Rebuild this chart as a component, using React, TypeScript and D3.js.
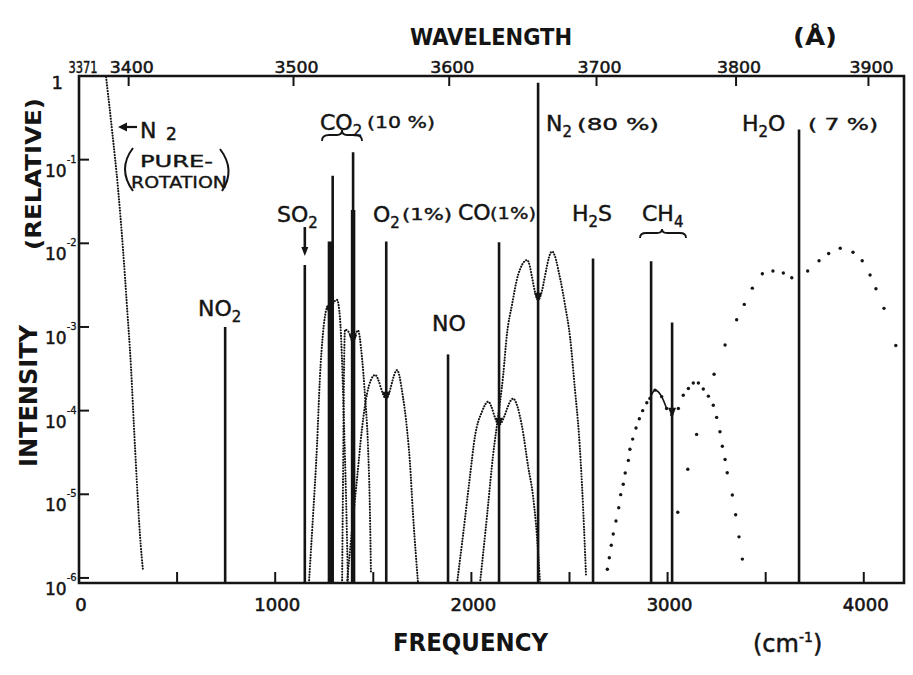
import React, { useEffect, useRef } from 'react';
import * as d3 from 'd3';

const width = 913;
const height = 675;

// Frequency shift axis (cm-1)
const freqTicks = [500, 1000, 1500, 2000, 2500, 3000, 3500, 4000];
const freqTickLabels = [0, 1000, 2000, 3000, 4000];
// Wavelength axis (Å), excitation by the 3371 Å nitrogen laser
const laserLine = 3371;
const wavelengthTicks = [3371, 3400, 3500, 3600, 3700, 3800, 3900];
// Intensity decades (powers of ten)
const intensityDecades = [0, -1, -2, -3, -4, -5, -6];

// Raman lines: NO2, SO2, CO2, CO2, O2, NO, CO, N2, H2S, CH4, CH4, H2O
const lineFreq = [745, 1151, 1293, 1397, 1566, 1881, 2141, 2340, 2620, 2916, 3023, 3670];
const lineIntensity = [1.0e-3, 5.5e-3, 6.4e-2, 0.123, 1.05e-2, 4.7e-4, 1.03e-2, 0.83, 6.6e-3, 6.1e-3, 1.13e-3, 0.23];

// CO2 hot-band lines (heavy)
const co2HotFreq = [1279, 1397];
const co2HotIntensity = [1.05e-2, 2.5e-2];

// arrow marks where a line sits in the dip of its band
const dipFreq = [1279, 1397, 1566, 2141, 2340, 3023];
const dipIntensity = [1.45e-3, 6.6e-4, 1.39e-4, 6.8e-5, 2.11e-3, 8.9e-5];

// rotational band envelopes (dotted)
const n2RotFreq = [138, 168, 199, 224, 245, 265, 280, 296, 311, 326];
const n2RotInt = [0.97, 0.23, 0.045, 0.0087, 0.0017, 3.3e-4, 6.5e-5, 1.26e-5, 3.2e-6, 1.24e-6];

const co2aFreq = [1172, 1193, 1213, 1228, 1244, 1259, 1269, 1279, 1295, 1315, 1330, 1340, 1351, 1361, 1371];
const co2aInt = [8.7e-7, 5.6e-6, 3.75e-5, 2.5e-4, 8.6e-4, 1.57e-3, 1.79e-3, 1.45e-3, 1.9e-3, 2.11e-3, 1.3e-3, 4.4e-4, 6.5e-5, 9.6e-6, 8.7e-7];

const co2bFreq = [1341, 1346, 1351, 1356, 1376, 1397, 1412, 1422, 1442, 1458, 1473, 1483, 1488];
const co2bInt = [8.7e-7, 1.7e-5, 3.3e-4, 9.3e-4, 8.6e-4, 6.6e-4, 8.5e-4, 9.1e-4, 4.4e-4, 1.47e-4, 3.75e-5, 6.0e-6, 1.18e-6];

const o2Freq = [1366, 1392, 1417, 1442, 1468, 1509, 1565, 1621, 1651, 1672, 1687, 1702, 1728];
const o2Int = [8.7e-7, 3.9e-6, 1.52e-5, 5.96e-5, 1.59e-4, 2.67e-4, 1.39e-4, 3.05e-4, 1.47e-4, 5.96e-5, 2.36e-5, 6.0e-6, 8.7e-7];

const coFreq = [1927, 1957, 1993, 2018, 2054, 2085, 2141, 2212, 2258, 2289, 2314, 2334, 2350];
const coInt = [8.7e-7, 3.2e-6, 1.66e-5, 4.9e-5, 9.7e-5, 1.28e-4, 6.8e-5, 1.39e-4, 6.5e-5, 2.17e-5, 9.6e-6, 3.2e-6, 8.7e-7];

const n2VibFreq = [2044, 2080, 2110, 2136, 2161, 2181, 2207, 2238, 2284, 2340, 2411, 2452, 2477, 2503, 2528, 2549, 2564, 2584];
const n2VibInt = [8.7e-7, 5.6e-6, 2.86e-5, 8.5e-5, 2.5e-4, 8.15e-4, 1.85e-3, 4.18e-3, 6.3e-3, 2.11e-3, 8.0e-3, 3.85e-3, 1.85e-3, 7.5e-4, 1.77e-4, 4.9e-5, 1.26e-5, 1.1e-6];

// sparse dots
const ch4Freq = [2693, 2703, 2713, 2723, 2737, 2751, 2761, 2774, 2784, 2800, 2808, 2822, 2839, 2856, 2873, 2894, 2910, 2936, 2970, 2995,
  3021, 3055, 3080, 3106, 3131, 3157, 3182, 3208, 3233, 3250, 3267, 3279, 3293, 3304, 3330, 3347, 3364, 3381];
const ch4Int = [1.27e-6, 1.74e-6, 2.46e-6, 3.35e-6, 4.8e-6, 6.9e-6, 9.9e-6, 1.32e-5, 1.8e-5, 2.54e-5, 3.45e-5, 4.57e-5, 6.2e-5, 8.0e-5, 1.0e-4,
  1.24e-4, 1.4e-4, 1.76e-4, 1.47e-4, 1.06e-4, 8.9e-5, 1.06e-4, 1.53e-4, 1.84e-4, 2.14e-4, 2.14e-4, 1.81e-4, 1.49e-4, 1.16e-4, 8.3e-5,
  5.6e-5, 3.75e-5, 2.61e-5, 1.81e-5, 9.8e-6, 5.7e-6, 3.1e-6, 1.68e-6];

const h2oFreq = [3052, 3103, 3148, 3237, 3293, 3352, 3391, 3432, 3483, 3537, 3590, 3633, 3714, 3772, 3821, 3880, 3945, 3992, 4032, 4062, 4103, 4163];
const h2oInt = [6.1e-6, 1.99e-5, 5.2e-5, 2.72e-4, 6.1e-4, 1.22e-3, 1.86e-3, 2.91e-3, 4.33e-3, 4.67e-3, 4.42e-3, 3.88e-3, 4.67e-3, 6.18e-3,
  7.55e-3, 8.73e-3, 7.82e-3, 6.18e-3, 4.18e-3, 2.86e-3, 1.67e-3, 6.0e-4];

const envelopes = [
  { freq: n2RotFreq, int: n2RotInt },
  { freq: co2aFreq, int: co2aInt },
  { freq: co2bFreq, int: co2bInt },
  { freq: o2Freq, int: o2Int },
  { freq: coFreq, int: coInt },
  { freq: n2VibFreq, int: n2VibInt },
];

const ink = '#141414';
const font = 'DejaVu Sans, Verdana, sans-serif';

const App = () => {
  const svgRef = useRef<SVGSVGElement>(null);

  useEffect(() => {
    const svg = d3.select(svgRef.current);
    svg.selectAll('*').remove();

    const x = d3.scaleLinear().domain([0, 4205]).range([79, 904]);
    const y = d3.scaleLog().domain([8.7e-7, 1]).range([583, 76]);
    const bottom = 583;
    const top = 76;

    svg.append('rect').attr('width', width).attr('height', height).attr('fill', '#fff');

    // dotted band envelopes
    const curve = d3.line<[number, number]>()
      .x(d => x(d[0]))
      .y(d => y(d[1]))
      .curve(d3.curveMonotoneX);

    envelopes.forEach(env => {
      const pts = env.freq.map((f, k) => [f, env.int[k]] as [number, number]);
      svg.append('path')
        .attr('d', curve(pts))
        .attr('fill', 'none')
        .attr('stroke', ink)
        .attr('stroke-width', 2.1)
        .attr('stroke-linecap', 'round')
        .attr('stroke-dasharray', '0.1 2.7');
    });

    // CH4 and H2O bands as sparse dots
    [{ freq: ch4Freq, int: ch4Int }, { freq: h2oFreq, int: h2oInt }].forEach(set => {
      svg.append('g').selectAll('circle')
        .data(set.freq)
        .enter()
        .append('circle')
        .attr('cx', d => x(d))
        .attr('cy', (d, k) => y(set.int[k]))
        .attr('r', 1.7)
        .attr('fill', ink);
    });
    // solid cap over the first CH4 line
    const capPts = ch4Freq.slice(16, 20).map((f, k) => [f, ch4Int[16 + k]] as [number, number]);
    svg.append('path')
      .attr('d', curve(capPts))
      .attr('fill', 'none')
      .attr('stroke', ink)
      .attr('stroke-width', 1.6);

    // Raman lines
    lineFreq.forEach((f, k) => {
      svg.append('line')
        .attr('x1', x(f)).attr('x2', x(f))
        .attr('y1', bottom).attr('y2', y(lineIntensity[k]))
        .attr('stroke', ink)
        .attr('stroke-width', 2.6);
    });
    co2HotFreq.forEach((f, k) => {
      svg.append('line')
        .attr('x1', x(f)).attr('x2', x(f))
        .attr('y1', bottom).attr('y2', y(co2HotIntensity[k]))
        .attr('stroke', ink)
        .attr('stroke-width', 4.5);
    });

    // dip arrows
    dipFreq.forEach((f, k) => {
      const px = x(f);
      const py = y(dipIntensity[k]);
      svg.append('polygon')
        .attr('points', `${px - 4},${py - 7} ${px + 4},${py - 7} ${px},${py + 3}`)
        .attr('fill', ink);
    });

    // SO2 arrow
    const so2x = x(lineFreq[1]);
    const so2y = y(lineIntensity[1]);
    svg.append('line')
      .attr('x1', so2x).attr('x2', so2x)
      .attr('y1', so2y - 38).attr('y2', so2y - 16)
      .attr('stroke', ink).attr('stroke-width', 2.6);
    svg.append('polygon')
      .attr('points', `${so2x - 3.5},${so2y - 18} ${so2x + 3.5},${so2y - 18} ${so2x},${so2y - 9}`)
      .attr('fill', ink);

    // frame
    svg.append('path')
      .attr('d', `M${x(0)},${top}H${x(4205)}V${bottom}H${x(0)}Z`)
      .attr('fill', 'none')
      .attr('stroke', ink)
      .attr('stroke-width', 2.6);

    // bottom ticks and labels
    freqTicks.forEach(f => {
      svg.append('line')
        .attr('x1', x(f)).attr('x2', x(f))
        .attr('y1', bottom).attr('y2', bottom - 11)
        .attr('stroke', ink).attr('stroke-width', 2);
    });
    freqTickLabels.forEach(f => {
      svg.append('text')
        .attr('x', x(f) + 2)
        .attr('y', 611)
        .attr('text-anchor', 'middle')
        .attr('font-family', font)
        .attr('font-size', 18)
        .attr('fill', ink)
        .attr('stroke', ink)
        .attr('stroke-width', 0.6)
        .text(f);
    });

    // top wavelength ticks
    const shift = (lambda: number) => 1e8 / laserLine - 1e8 / lambda;
    wavelengthTicks.forEach((w, k) => {
      const px = x(shift(w));
      if (k > 0) {
        svg.append('line')
          .attr('x1', px).attr('x2', px)
          .attr('y1', top).attr('y2', top + 10)
          .attr('stroke', ink).attr('stroke-width', 2);
      }
      svg.append('text')
        .attr('x', k === 0 ? px + 4 : px + 3)
        .attr('y', 73)
        .attr('text-anchor', 'middle')
        .attr('font-family', font)
        .attr('font-size', 16)
        .attr('textLength', k === 0 ? 29 : 44)
        .attr('lengthAdjust', 'spacingAndGlyphs')
        .attr('fill', ink)
        .attr('stroke', ink)
        .attr('stroke-width', 0.5)
        .text(w);
    });

    // left intensity ticks
    intensityDecades.forEach(p => {
      const py = y(Math.pow(10, p));
      svg.append('line')
        .attr('x1', x(0)).attr('x2', x(0) + 10)
        .attr('y1', py).attr('y2', py)
        .attr('stroke', ink).attr('stroke-width', 2);
      if (p === 0) {
        svg.append('text')
          .attr('x', 63).attr('y', py + 13)
          .attr('text-anchor', 'end')
          .attr('font-family', font).attr('font-size', 18)
          .attr('fill', ink).attr('stroke', ink).attr('stroke-width', 0.5)
          .text('1');
      } else {
        // "10" with a raised exponent, as one text
        const t = svg.append('text')
          .attr('x', 45).attr('y', py + 17)
          .attr('font-family', font).attr('font-size', 17)
          .attr('fill', ink).attr('stroke', ink).attr('stroke-width', 0.5);
        t.append('tspan').text('10');
        t.append('tspan').attr('dy', -14).attr('font-size', 10).attr('stroke-width', 0.3).text(`-${-p}`);
      }
    });

    // axis titles
    const title = (tx: number, ty: number, s: string, size: number, len: number, rotate = false) => {
      const t = svg.append('text')
        .attr('font-family', font)
        .attr('font-size', size)
        .attr('font-weight', 'bold')
        .attr('fill', ink)
        .attr('textLength', len)
        .attr('lengthAdjust', 'spacingAndGlyphs')
        .text(s);
      if (rotate) {
        t.attr('transform', `translate(${tx},${ty}) rotate(-90)`).attr('text-anchor', 'middle');
      } else {
        t.attr('x', tx).attr('y', ty);
      }
    };
    title(410, 45, 'WAVELENGTH', 23, 162);
    title(793, 45, '(Å)', 23, 44);
    title(393, 651, 'FREQUENCY', 24, 155);
    title(37, 396, 'INTENSITY', 24, 142, true);
    title(41, 174, '(RELATIVE)', 22, 152, true);

    const cm = svg.append('text')
      .attr('x', 753).attr('y', 652)
      .attr('font-family', font).attr('font-size', 24)
      .attr('fill', ink).attr('stroke', ink).attr('stroke-width', 0.5);
    cm.append('tspan').text('(cm');
    cm.append('tspan').attr('dy', -10).attr('font-size', 14).text('-1');
    cm.append('tspan').attr('dy', 10).text(')');

    // molecule labels
    const chem = (tx: number, ty: number, parts: [string, number][], size = 22) => {
      const t = svg.append('text')
        .attr('x', tx).attr('y', ty)
        .attr('font-family', font)
        .attr('font-size', size)
        .attr('fill', ink)
        .attr('stroke', ink)
        .attr('stroke-width', 0.45);
      let prev = 0;
      parts.forEach(([s, dy]) => {
        t.append('tspan')
          .attr('dy', dy - prev)
          .attr('font-size', dy ? size * 0.68 : size)
          .text(s);
        prev = dy;
      });
    };
    const pct = (tx: number, ty: number, s: string, len: number) => {
      svg.append('text')
        .attr('x', tx).attr('y', ty)
        .attr('font-family', font)
        .attr('font-size', 16)
        .attr('textLength', len)
        .attr('lengthAdjust', 'spacingAndGlyphs')
        .attr('fill', ink)
        .attr('stroke', ink)
        .attr('stroke-width', 0.4)
        .text(s);
    };

    chem(198, 316, [['NO', 0], ['2', 6]]);
    chem(277, 222, [['SO', 0], ['2', 6]]);
    chem(320, 130, [['CO', 0], ['2', 6]]);
    pct(367, 128, '(10 %)', 68);
    chem(373, 222, [['O', 0], ['2', 6]]);
    pct(402, 220, '(1%)', 50);
    chem(432, 331, [['NO', 0]]);
    chem(458, 220, [['CO', 0]]);
    pct(490, 219, '(1%)', 46);
    chem(546, 131, [['N', 0], ['2', 6]]);
    pct(577, 130, '(80 %)', 82);
    chem(572, 221, [['H', 0], ['2', 6], ['S', 0]]);
    chem(642, 221, [['CH', 0], ['4', 6]]);
    chem(742, 131, [['H', 0], ['2', 6], ['O', 0]]);
    pct(808, 130, '( 7 %)', 70);

    // N2 pure rotation label
    chem(140, 138, [['N', 0]]);
    chem(166, 140, [['2', 0]], 17);
    svg.append('line')
      .attr('x1', 137).attr('x2', 124)
      .attr('y1', 127).attr('y2', 127)
      .attr('stroke', ink).attr('stroke-width', 2.2);
    svg.append('polygon')
      .attr('points', '118,127 127,122.5 127,131.5')
      .attr('fill', ink);
    pct(140, 167, 'PURE-', 73);
    pct(131, 188, 'ROTATION', 96);
    svg.append('path')
      .attr('d', 'M133,148 Q117,169 133,191 M220,149 Q236,170 222,191')
      .attr('fill', 'none')
      .attr('stroke', ink)
      .attr('stroke-width', 2);

    // braces under CO2 and CH4
    svg.append('path')
      .attr('d', 'M322,141 Q322,135 329,135 L337,135 Q342,135 342,130 Q342,135 347,135 L355,135 Q362,135 362,141')
      .attr('fill', 'none').attr('stroke', ink).attr('stroke-width', 1.8);
    svg.append('path')
      .attr('d', 'M640,238 Q640,233 646,233 L657,233 Q662,233 662,229 Q662,233 667,233 L680,233 Q686,233 686,238')
      .attr('fill', 'none').attr('stroke', ink).attr('stroke-width', 1.8);
  }, []);

  return (
    <svg
      ref={svgRef}
      width={width}
      height={height}
      style={{ position: 'absolute', left: 0, top: 0 }}
    />
  );
};

export default App;
